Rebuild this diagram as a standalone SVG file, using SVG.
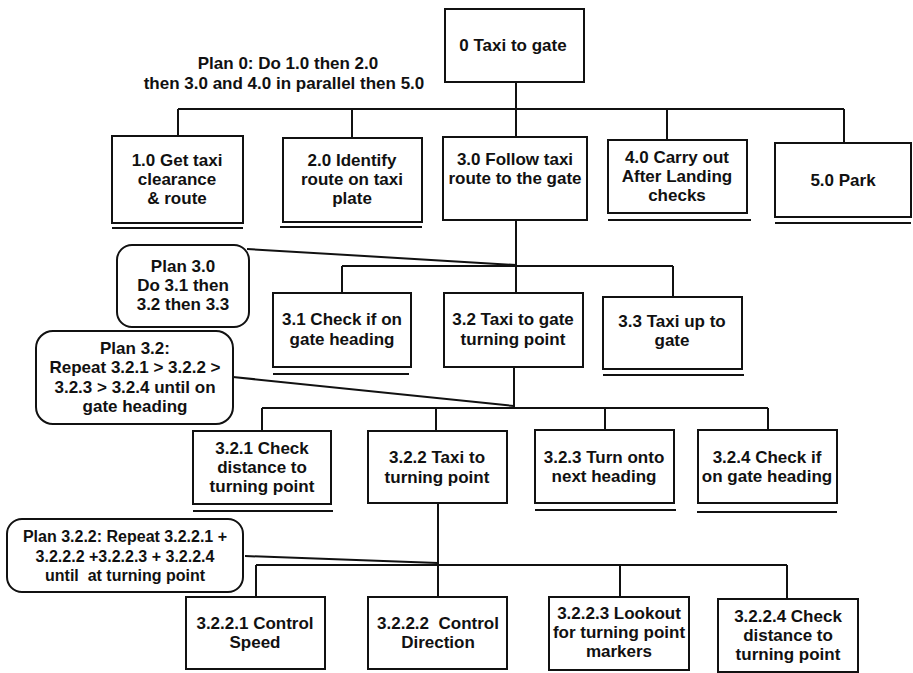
<svg xmlns="http://www.w3.org/2000/svg" width="913" height="673" viewBox="0 0 913 673">
<style>
  .bx{fill:#fff;stroke:#111;stroke-width:2}
  .pl{fill:#fff;stroke:#111;stroke-width:2}
  .ul{stroke:#111;stroke-width:2;fill:none}
  .cn{stroke:#111;stroke-width:2;fill:none}
  text{font-family:"Liberation Sans",Arial,sans-serif;font-size:17px;font-weight:bold;fill:#111;text-anchor:middle}
  .sm{font-size:16px}
</style>
<rect width="913" height="673" fill="#fff"/>
<g id="connectors">
  <path class="cn" d="M516 82V109M178 109H844M178 109V136M352 109V138M516 109V137M667 109V140M844 109V143"/>
  <path class="cn" d="M516 220V293M342 266H673M342 266V293M673 266V297M247 249L516 265"/>
  <path class="cn" d="M514 367V408M262 408H768M262 408V431M436 408V431M605 408V430M768 408V430M233 377L514 406"/>
  <path class="cn" d="M438 503V597M256 565H787M256 565V597M620 565V597M787 565V599M245 556L438 563"/>
</g>
<g id="plan0"><text x="288" y="69">Plan 0: Do 1.0 then 2.0</text><text x="284" y="89">then 3.0 and 4.0 in parallel then 5.0</text></g>
<g id="n0"><rect class="bx" x="445" y="9" width="139" height="73"/><text x="513" y="51">0 Taxi to gate</text></g>
<g id="n1"><rect class="bx" x="112" y="136" width="131" height="87"/><path class="ul" d="M112 228H243"/><text x="177" y="166">1.0 Get taxi</text><text x="177" y="185">clearance</text><text x="177" y="204">&amp; route</text></g>
<g id="n2"><rect class="bx" x="283" y="138" width="139" height="84"/><path class="ul" d="M280 227H422"/><text x="352" y="166">2.0 Identify</text><text x="352" y="185">route on taxi</text><text x="352" y="204">plate</text></g>
<g id="n3"><rect class="bx" x="443" y="137" width="144" height="83"/><text x="515" y="165">3.0 Follow taxi</text><text x="515" y="184">route to the gate</text></g>
<g id="n4"><rect class="bx" x="608" y="140" width="139" height="73"/><path class="ul" d="M608 220H751"/><text x="677" y="163">4.0 Carry out</text><text x="677" y="182">After Landing</text><text x="677" y="201">checks</text></g>
<g id="n5"><rect class="bx" x="775" y="143" width="136" height="74"/><path class="ul" d="M775 223H911"/><text x="843" y="186">5.0 Park</text></g>
<g id="plan30"><rect class="pl" x="117" y="245" width="132" height="82" rx="15"/><text x="183" y="272">Plan 3.0</text><text x="183" y="291">Do 3.1 then</text><text x="183" y="310">3.2 then 3.3</text></g>
<g id="n31"><rect class="bx" x="273" y="293" width="138" height="74"/><path class="ul" d="M273 374H409"/><text x="342" y="325">3.1 Check if on</text><text x="342" y="345">gate heading</text></g>
<g id="n32"><rect class="bx" x="444" y="293" width="139" height="74"/><text x="513" y="325">3.2 Taxi to gate</text><text x="513" y="345">turning point</text></g>
<g id="n33"><rect class="bx" x="603" y="297" width="139" height="72"/><path class="ul" d="M603 375H744"/><text x="672" y="327">3.3 Taxi up to</text><text x="672" y="346">gate</text></g>
<g id="plan32"><rect class="pl" x="36" y="331" width="197" height="93" rx="17"/><text x="135" y="354">Plan 3.2:</text><text x="135" y="373">Repeat 3.2.1 &gt; 3.2.2 &gt;</text><text x="135" y="393">3.2.3 &gt; 3.2.4 until on</text><text x="135" y="412">gate heading</text></g>
<g id="n321"><rect class="bx" x="193" y="431" width="138" height="73"/><path class="ul" d="M193 511H333"/><text x="262" y="454">3.2.1 Check</text><text x="262" y="473">distance to</text><text x="262" y="492">turning point</text></g>
<g id="n322"><rect class="bx" x="368" y="431" width="139" height="72"/><text x="437" y="463">3.2.2 Taxi to</text><text x="437" y="483">turning point</text></g>
<g id="n323"><rect class="bx" x="535" y="430" width="139" height="73"/><path class="ul" d="M535 510H676"/><text x="604" y="463">3.2.3 Turn onto</text><text x="604" y="482">next heading</text></g>
<g id="n324"><rect class="bx" x="698" y="430" width="139" height="73"/><path class="ul" d="M697 512H837"/><text x="767" y="463">3.2.4 Check if</text><text x="767" y="482">on gate heading</text></g>
<g id="plan322"><rect class="pl" x="7" y="519" width="236" height="73" rx="15"/><text class="sm" x="125" y="542">Plan 3.2.2: Repeat 3.2.2.1 +</text><text class="sm" x="125" y="562">3.2.2.2 +3.2.2.3 + 3.2.2.4</text><text class="sm" x="125" y="581" xml:space="preserve">until  at turning point</text></g>
<g id="n3221"><rect class="bx" x="186" y="597" width="139" height="72"/><text x="255" y="629">3.2.2.1 Control</text><text x="255" y="648">Speed</text></g>
<g id="n3222"><rect class="bx" x="368" y="597" width="139" height="72"/><text x="438" y="629" xml:space="preserve">3.2.2.2  Control</text><text x="438" y="648">Direction</text></g>
<g id="n3223"><rect class="bx" x="549" y="597" width="140" height="73"/><text x="619" y="619">3.2.2.3 Lookout</text><text x="619" y="638">for turning point</text><text x="619" y="657">markers</text></g>
<g id="n3224"><rect class="bx" x="718" y="599" width="140" height="73"/><text x="788" y="622">3.2.2.4 Check</text><text x="788" y="641">distance to</text><text x="788" y="660">turning point</text></g>
</svg>
